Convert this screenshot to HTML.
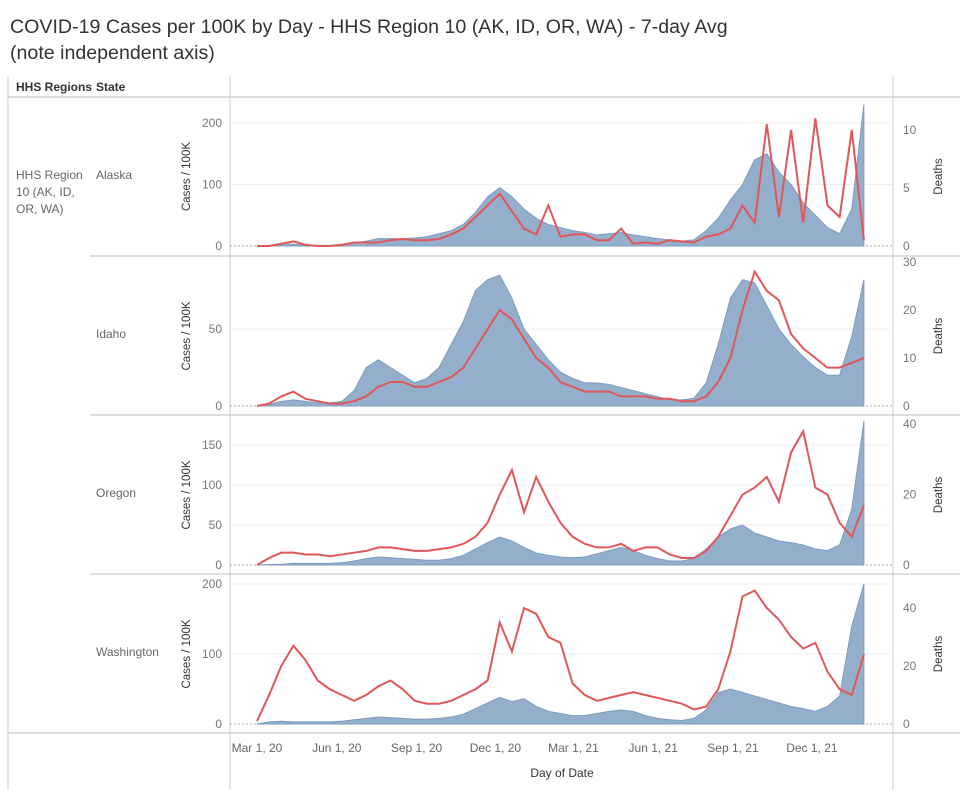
<!DOCTYPE html>
<html><head><meta charset="utf-8"><style>
body{margin:0;background:#fff;font-family:"Liberation Sans",sans-serif;}
svg text{font-family:"Liberation Sans",sans-serif;}
</style></head><body>
<svg id="c" width="965" height="800" viewBox="0 0 965 800">
<text x="10" y="33" font-size="19.6" fill="#333">COVID-19 Cases per 100K by Day - HHS Region 10 (AK, ID, OR, WA) - 7-day Avg</text>
<text x="10" y="59" font-size="19.6" fill="#333">(note independent axis)</text>
<line x1="8" y1="76" x2="8" y2="790" stroke="#ccc"/>
<line x1="8" y1="97" x2="960" y2="97" stroke="#bbb"/>
<line x1="8" y1="733" x2="960" y2="733" stroke="#bbb"/>
<text x="16" y="91" font-size="12" font-weight="bold" fill="#333">HHS Regions</text>
<text x="96" y="91" font-size="12" font-weight="bold" fill="#333">State</text>
<text font-size="12" fill="#666"><tspan x="16" y="179">HHS Region</tspan><tspan x="16" y="196">10 (AK, ID,</tspan><tspan x="16" y="213">OR, WA)</tspan></text>
<line x1="230" y1="76" x2="230" y2="790" stroke="#ccc"/>
<line x1="893" y1="76" x2="893" y2="790" stroke="#ccc"/>
<text x="562" y="777" font-size="12" fill="#333" text-anchor="middle">Day of Date</text>
<g id="g"></g>
</svg>
<script>
const dayOffsets=[0,14,28,42,56,70,84,98,112,126,140,154,168,182,196,210,224,238,252,266,280,294,308,322,336,350,364,378,392,406,420,434,448,462,476,490,504,518,532,546,560,574,588,602,616,630,644,658,672,686,700];
const states=["Alaska","Idaho","Oregon","Washington"];
const akCases=[0,1,3,3,1,1,1,3,5,8,12,12,12,13,15,20,25,35,55,80,95,80,60,45,35,30,25,22,18,20,22,18,15,12,10,8,10,25,45,75,100,140,150,120,100,70,50,30,20,60,230];
const akDeaths=[0,0,0.2,0.4,0.1,0,0,0.1,0.3,0.3,0.3,0.5,0.6,0.5,0.5,0.6,1,1.5,2.5,3.5,4.5,3,1.5,1,3.5,0.8,1,1,0.5,0.5,1.5,0.2,0.3,0.2,0.5,0.4,0.3,0.8,1,1.5,3.5,2,10.5,2.5,10,2,11,3.5,2.5,10,0.5];
const idCases=[0,1,3,4,3,2,2,3,10,25,30,25,20,15,18,25,40,55,75,82,85,70,50,40,30,22,18,15,15,14,12,10,8,6,4,4,5,15,40,70,82,80,65,50,40,32,25,20,20,45,82];
const idDeaths=[0,0.5,2,3,1.5,1,0.5,0.5,1,2,4,5,5,4,4,5,6,8,12,16,20,18,14,10,8,5,4,3,3,3,2,2,2,1.5,1.5,1,1,2,5,10,20,28,24,22,15,12,10,8,8,9,10];
const orCases=[0,0.5,1,2,2,2,2,3,5,8,10,9,8,7,6,6,8,12,20,28,35,30,22,15,12,10,9,10,14,18,22,18,12,8,5,5,8,20,35,45,50,40,35,30,28,25,20,18,25,70,180];
const orDeaths=[0,2,3.5,3.5,3,3,2.5,3,3.5,4,5,5,4.5,4,4,4.5,5,6,8,12,20,27,15,25,18,12,8,6,5,5,6,4,5,5,3,2,2,4,8,14,20,22,25,18,32,38,22,20,12,8,17];
const waCases=[0,3,4,3,3,3,3,4,6,8,10,9,8,7,7,8,10,14,22,30,38,32,36,25,18,15,12,12,15,18,20,18,12,8,6,5,8,20,45,50,45,40,35,30,25,22,18,25,40,140,200];
const waDeaths=[1,10,20,27,22,15,12,10,8,10,13,15,12,8,7,7,8,10,12,15,35,25,40,38,30,28,14,10,8,9,10,11,10,9,8,7,5,6,12,25,44,46,40,36,30,26,28,18,12,10,24];
const caseTicks=[[0,100,200],[0,50],[0,50,100,150],[0,100,200]];
const deathTicks=[[0,5,10],[0,10,20,30],[0,20,40],[0,20,40]];
const xTickLabels=["Mar 1, 20","Jun 1, 20","Sep 1, 20","Dec 1, 20","Mar 1, 21","Jun 1, 21","Sep 1, 21","Dec 1, 21"];
const xTickDays=[0,92,184,275,365,457,549,640];
const casesData=[akCases,idCases,orCases,waCases];
const deathsData=[akDeaths,idDeaths,orDeaths,waDeaths];
const NS="http://www.w3.org/2000/svg";
const g=document.getElementById('g');
function mk(t,a){const e=document.createElementNS(NS,t);for(const k in a)e.setAttribute(k,a[k]);g.appendChild(e);return e;}
const x=d=>257+d*0.867;
const panels=[{top:97,zero:246,cs:0.615,ds:11.6},{top:256,zero:406,cs:1.54,ds:4.8},{top:415,zero:565,cs:0.8,ds:3.52},{top:574,zero:724,cs:0.7,ds:2.9}];
panels.forEach((p,i)=>{
  const yc=v=>p.zero-v*p.cs, yd=v=>p.zero-v*p.ds;
  if(i>0){const l=mk('line',{x1:90,y1:p.top,x2:960,y2:p.top,stroke:'#bbb'});
  
  }
  const sl=mk('text',{x:96,y:p.top+82,'font-size':12,fill:'#666'});sl.textContent=states[i];
  
  
  caseTicks[i].forEach(v=>{
    if(v>0){const gl=mk('line',{x1:230,x2:893,y1:yc(v),y2:yc(v),stroke:'#eee'});
    
    }
    const t=mk('text',{x:222,y:yc(v)+4,'font-size':12,fill:'#777','text-anchor':'end'});t.textContent=v;
    
    
  });
  deathTicks[i].forEach(v=>{
    const t=mk('text',{x:903,y:yd(v)+4,'font-size':12,fill:'#777'});t.textContent=v;
    
    
  });
  const zl=mk('line',{x1:230,x2:893,y1:p.zero,y2:p.zero,stroke:'#aaa','stroke-dasharray':'2,2'});
  
  
  const cy=(p.top+p.zero)/2+5;
  const ct=mk('text',{x:0,y:0,'font-size':11.5,fill:'#333','text-anchor':'middle',transform:`translate(190,${cy}) rotate(-90)`});ct.textContent='Cases / 100K';
  
  
  const dt=mk('text',{x:0,y:0,'font-size':11.5,fill:'#333','text-anchor':'middle',transform:`translate(942,${cy}) rotate(-90)`});dt.textContent='Deaths';
  
  
  let pts=dayOffsets.map((d,j)=>x(d)+','+yc(casesData[i][j]));
  const area=mk('path',{d:`M${x(dayOffsets[0])},${p.zero}L${pts.join('L')}L${x(dayOffsets[dayOffsets.length-1])},${p.zero}Z`,fill:'#94afcb',stroke:'#7d9cc0','stroke-width':1});
  
  
  const dl=mk('polyline',{points:dayOffsets.map((d,j)=>x(d)+','+yd(deathsData[i][j])).join(' '),fill:'none',stroke:'#e15759','stroke-width':2});
  
  
});
xTickDays.forEach((d,k)=>{
  const t=mk('text',{x:x(d),y:752,'font-size':12,fill:'#666','text-anchor':'middle'});t.textContent=xTickLabels[k];
  
  
});
</script>
</body></html>
